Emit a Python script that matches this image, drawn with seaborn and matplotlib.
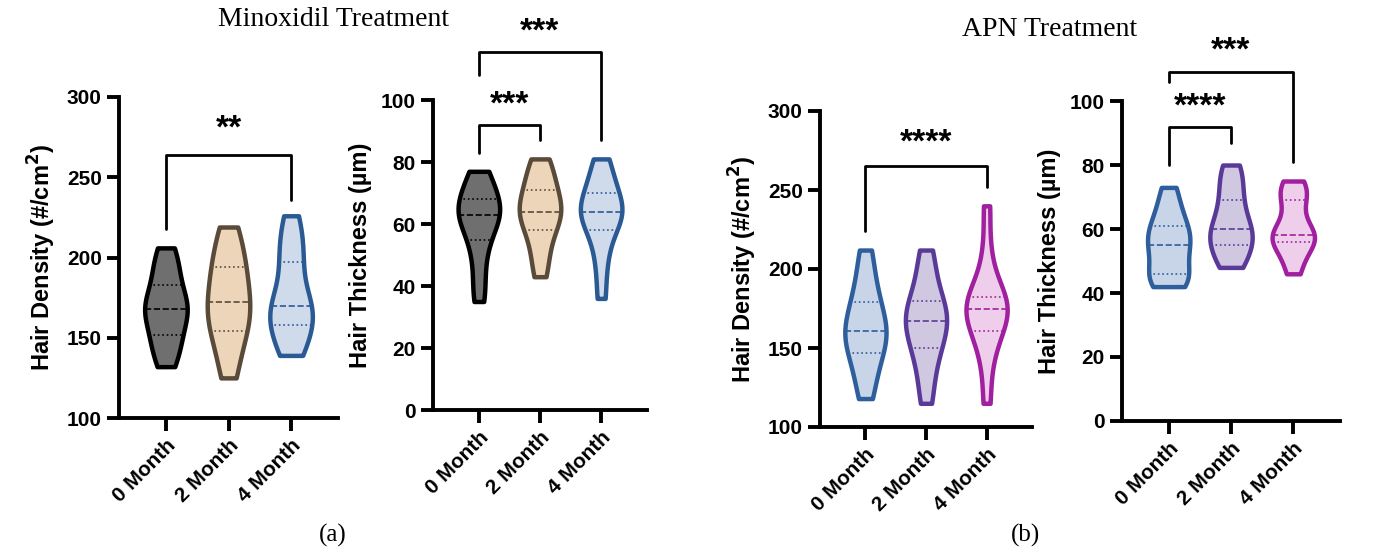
import numpy as np
import pandas as pd
import matplotlib
matplotlib.use("Agg")
import matplotlib.pyplot as plt
import seaborn as sns

months = ["0 Month", "2 Month", "4 Month"]

# estimated per-subject values (min, quartiles, median, max)
mino_density_0 = [132, 140, 148, 152, 160, 166, 168, 170, 176, 183, 190, 198, 206]
mino_density_2 = [125, 138, 150, 154, 162, 168, 172, 178, 186, 194, 198, 210, 219]
mino_density_4 = [139, 145, 152, 158, 163, 167, 170, 175, 186, 197, 205, 215, 226]
mino_thick_0 = [35, 42, 50, 55, 59, 62, 63, 64, 66, 68, 71, 74, 77]
mino_thick_2 = [43, 49, 54, 58, 61, 63, 64, 66, 69, 71, 74, 78, 81]
mino_thick_4 = [36, 46, 53, 58, 61, 63, 64, 65, 67, 70, 73, 77, 81]
apn_density_0 = [118, 130, 140, 147, 153, 158, 161, 165, 172, 179, 186, 198, 212]
apn_density_2 = [115, 130, 143, 150, 157, 163, 167, 170, 175, 180, 188, 200, 212]
apn_density_4 = [115, 140, 155, 161, 168, 172, 175, 177, 180, 182, 190, 210, 240]
apn_thick_0 = [42, 43, 45, 46, 50, 53, 55, 57, 59, 61, 64, 68, 73]
apn_thick_2 = [48, 50, 53, 55, 57, 59, 60, 62, 66, 69, 73, 77, 80]
apn_thick_4 = [46, 50, 54, 56, 57, 58, 58, 60, 64, 69, 71, 73, 75]

mino_fill = ["#6f6f6f", "#f6d6b1", "#cbd9ee"]
mino_edge = ["#000000", "#5a4a3a", "#2a5a94"]
apn_fill = ["#c2d4ee", "#cfc2e6", "#f5c8f1"]
apn_edge = ["#2e5e9c", "#5a3a98", "#a0209f"]

sns.set_theme(style="ticks")
plt.rcParams["font.family"] = ["Liberation Sans", "DejaVu Sans"]
plt.rcParams["text.color"] = "black"
plt.rcParams["axes.labelcolor"] = "black"
plt.rcParams["xtick.color"] = "black"
plt.rcParams["ytick.color"] = "black"

fig = plt.figure(figsize=(13.81, 5.48), dpi=100)
W, H = 1381, 548


def add_ax(x0, x1, ytop, ybot):
    return fig.add_axes([x0 / W, 1 - ybot / H, (x1 - x0) / W, (ybot - ytop) / H])


def violins(ax, groups, fills, edges, ylim, yticks, ylabel):
    df = pd.DataFrame({"month": np.repeat(months, [len(g) for g in groups]),
                       "value": np.concatenate(groups)})
    sns.violinplot(data=df, x="month", y="value", hue="month", palette=fills,
                   cut=0, inner="quart", width=0.68, linewidth=3,
                   bw_adjust=0.8, legend=False, ax=ax)
    for coll, ec in zip(ax.collections, edges):
        coll.set_edgecolor(ec)
        coll.set_linewidth(3.2)
    for i, ln in enumerate(ax.lines):
        g = i // 3
        ln.set_color(edges[g] if g < 3 else "k")
        ln.set_linewidth(1.2)
        ln.set_linestyle("--" if i % 3 == 1 else ":")
    ax.set_ylim(*ylim)
    ax.set_yticks(yticks)
    ax.set_xlim(-0.75, 2.75)
    ax.set_xlabel("")
    ax.set_ylabel(ylabel, fontsize=17, fontweight="bold", labelpad=6)
    for s in ["top", "right"]:
        ax.spines[s].set_visible(False)
    for s in ["left", "bottom"]:
        ax.spines[s].set_linewidth(2.8)
        ax.spines[s].set_color("black")
    ax.tick_params(width=2.8, length=9, labelsize=15)
    for lab in ax.get_yticklabels():
        lab.set_fontweight("bold")
    ax.set_xticks(range(3))
    ax.set_xticklabels(months, rotation=45, ha="right", rotation_mode="anchor",
                       fontsize=15, fontweight="bold")


def bracket(ax, x0, x1, top, l0, l1, stars, ys):
    ax.plot([x0, x0, x1, x1], [l0, top, top, l1], color="black", lw=2,
            clip_on=False)
    ax.text((x0 + x1) / 2, ys, stars, ha="center", va="center",
            fontsize=24, fontweight="bold", clip_on=False)


ax1 = add_ax(119, 338, 97, 418)
violins(ax1, [mino_density_0, mino_density_2, mino_density_4], mino_fill,
        mino_edge, (100, 300), [100, 150, 200, 250, 300],
        "Hair Density (#/cm$^\\mathbf{2}$)")
bracket(ax1, 0, 2, 264, 218, 236, "**", 280)

ax2 = add_ax(433, 647, 100, 410)
violins(ax2, [mino_thick_0, mino_thick_2, mino_thick_4], mino_fill,
        mino_edge, (0, 100), [0, 20, 40, 60, 80, 100], "Hair Thickness (µm)")
bracket(ax2, 0, 1, 92, 83, 87, "***", 98.5)
bracket(ax2, 0, 2, 115.5, 108, 87, "***", 122)

ax3 = add_ax(820, 1032, 111, 427)
violins(ax3, [apn_density_0, apn_density_2, apn_density_4], apn_fill,
        apn_edge, (100, 300), [100, 150, 200, 250, 300],
        "Hair Density (#/cm$^\\mathbf{2}$)")
bracket(ax3, 0, 2, 265, 224, 252, "****", 280)

ax4 = add_ax(1122, 1340, 101, 421)
violins(ax4, [apn_thick_0, apn_thick_2, apn_thick_4], apn_fill,
        apn_edge, (0, 100), [0, 20, 40, 60, 80, 100], "Hair Thickness (µm)")
bracket(ax4, 0, 1, 92, 80, 87, "****", 98)
bracket(ax4, 0, 2, 109, 106, 81, "***", 115.5)

serif = ["Liberation Serif", "DejaVu Serif"]
fig.text(333 / W, 1 - 20 / H, "Minoxidil Treatment", ha="center", va="center",
         fontsize=20, family=serif)
fig.text(1050 / W, 1 - 30 / H, "APN Treatment", ha="center", va="center",
         fontsize=20, family=serif)
fig.text(333 / W, 1 - 547 / H, "(a)", ha="center", va="bottom", fontsize=18,
         family=serif)
fig.text(1025 / W, 1 - 547 / H, "(b)", ha="center", va="bottom", fontsize=18,
         family=serif)

fig.savefig("out.png", dpi=100, facecolor="white")
